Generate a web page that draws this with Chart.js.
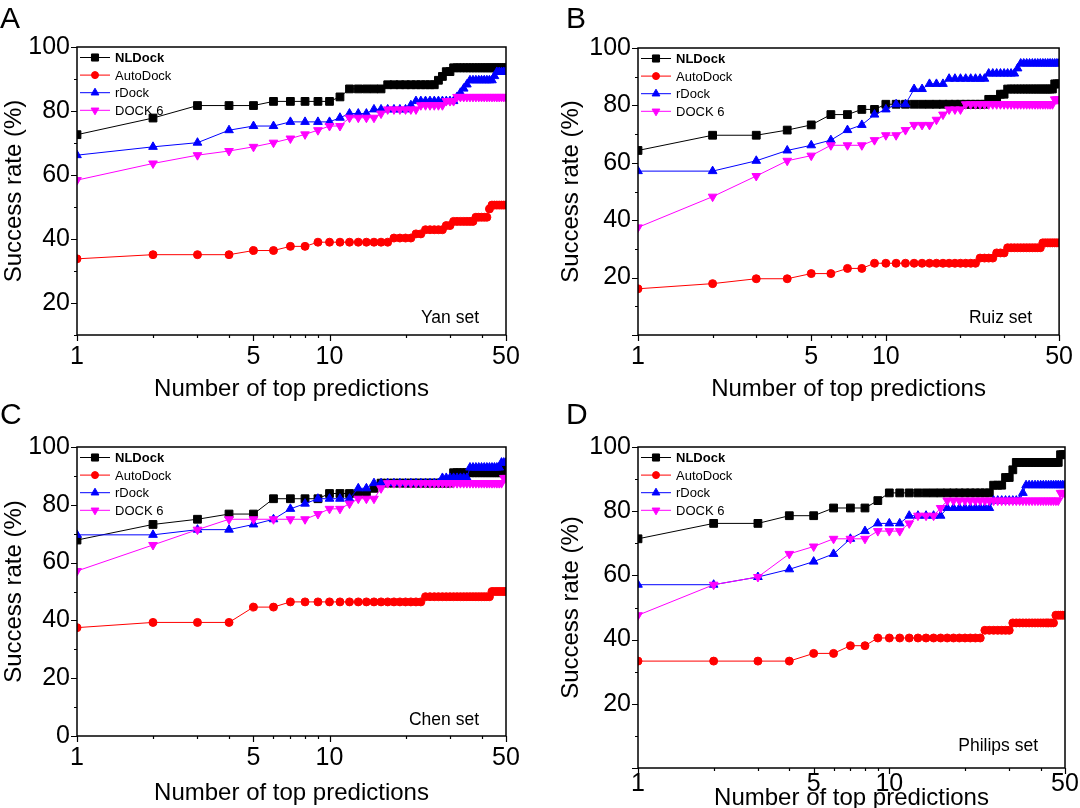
<!DOCTYPE html>
<html>
<head>
<meta charset="utf-8">
<title>Success rate vs number of top predictions</title>
<script src="https://cdn.jsdelivr.net/npm/chart.js@4.4.1/dist/chart.umd.min.js"></script>
<style>
  body { margin: 0; background: #fff; }
  #wrap { position: relative; width: 1080px; height: 808px; overflow: hidden; }
  .panel { position: absolute; width: 540px; height: 404px; }
  .letter { position: absolute; font: 30px/30px 'Liberation Sans', Arial, sans-serif; color: #000; }
</style>
</head>
<body>
<div id="wrap">
  <div class="panel" style="left:0;top:0"><canvas id="chartA"></canvas></div>
  <div class="panel" style="left:540px;top:0"><canvas id="chartB"></canvas></div>
  <div class="panel" style="left:0;top:404px"><canvas id="chartC"></canvas></div>
  <div class="panel" style="left:540px;top:404px"><canvas id="chartD"></canvas></div>
  <div class="letter" style="left:0;top:3px">A</div>
  <div class="letter" style="left:566px;top:3px">B</div>
  <div class="letter" style="left:0;top:399px">C</div>
  <div class="letter" style="left:566px;top:399px">D</div>
</div>
<script>
// number of top predictions considered
const topN = [1, 2, 3, 4, 5, 6, 7, 8, 9, 10, 11, 12, 13, 14, 15, 16, 17, 18, 19, 20,
  21, 22, 23, 24, 25, 26, 27, 28, 29, 30, 31, 32, 33, 34, 35, 36, 37, 38, 39, 40,
  41, 42, 43, 44, 45, 46, 47, 48, 49, 50];

const seriesNames = ['NLDock', 'AutoDock', 'rDock', 'DOCK 6'];
const seriesColors = ['#000000', '#ff0000', '#0000ff', '#ff00ff'];
const markerStyles = ['rect', 'circle', 'triangle', 'triangle'];
const markerRotation = [0, 0, 0, 180];
const markerRadius = [5.5, 4, 5, 5];

const xTicks = [1, 2, 3, 4, 5, 6, 7, 8, 9, 10, 20, 30, 40, 50];
const xLabelled = [1, 5, 10, 50];

// A - Yan set
const yanNLDock = [72.6, 77.8, 81.7, 81.7, 81.7, 83.0, 83.0, 83.0, 83.0, 83.0,
  84.4, 86.9, 86.9, 86.9, 86.9, 86.9, 88.2, 88.2, 88.2, 88.2,
  88.2, 88.2, 88.2, 88.2, 88.2, 88.2, 89.6, 90.8, 92.3, 92.3,
  93.5, 93.5, 93.5, 93.5, 93.5, 93.5, 93.5, 93.5, 93.5, 93.5,
  93.5, 93.5, 93.5, 93.5, 93.5, 93.5, 93.5, 93.5, 93.5, 93.5];
const yanAutoDock = [33.8, 35.1, 35.1, 35.1, 36.4, 36.4, 37.7, 37.7, 39.0, 39.0,
  39.0, 39.0, 39.0, 39.0, 39.0, 39.0, 39.0, 40.3, 40.3, 40.3,
  40.3, 41.6, 41.6, 42.9, 42.9, 42.9, 42.9, 42.9, 44.2, 44.2,
  45.5, 45.5, 45.5, 45.5, 45.5, 45.5, 45.5, 46.8, 46.8, 46.8,
  46.8, 46.8, 49.4, 50.6, 50.6, 50.6, 50.6, 50.6, 50.6, 50.6];
const yanRDock = [66.2, 68.8, 70.1, 74.0, 75.3, 75.3, 76.6, 76.6, 76.6, 76.6,
  77.9, 79.2, 79.2, 79.2, 80.5, 80.5, 80.5, 80.5, 80.5, 80.5,
  81.8, 83.1, 83.1, 83.1, 83.1, 83.1, 83.1, 83.1, 83.1, 83.1,
  83.1, 84.4, 85.7, 87.0, 88.3, 89.6, 89.6, 89.6, 89.6, 89.6,
  89.6, 89.6, 89.6, 89.6, 90.9, 92.2, 92.2, 92.2, 92.2, 92.2];
const yanDock6 = [58.4, 63.6, 66.2, 67.5, 68.8, 70.1, 71.4, 72.7, 74.0, 75.3,
  75.3, 77.9, 77.9, 77.9, 77.9, 79.2, 80.5, 80.5, 80.5, 80.5,
  80.5, 80.5, 81.8, 81.8, 81.8, 81.8, 81.8, 81.8, 83.1, 83.1,
  83.1, 84.4, 84.4, 84.4, 84.4, 84.4, 84.4, 84.4, 84.4, 84.4,
  84.4, 84.4, 84.4, 84.4, 84.4, 84.4, 84.4, 84.4, 84.4, 84.4];

// B - Ruiz set
const ruizNLDock = [64.3, 69.6, 69.6, 71.4, 73.2, 76.8, 76.8, 78.6, 78.6, 80.4,
  80.4, 80.4, 80.4, 80.4, 80.4, 80.4, 80.4, 80.4, 80.4, 80.4,
  80.4, 80.4, 80.4, 80.4, 80.4, 82.1, 82.1, 82.1, 83.9, 83.9,
  85.7, 85.7, 85.7, 85.7, 85.7, 85.7, 85.7, 85.7, 85.7, 85.7,
  85.7, 85.7, 85.7, 85.7, 85.7, 85.7, 85.7, 87.5, 87.5, 87.5];
const ruizAutoDock = [16.1, 17.9, 19.6, 19.6, 21.4, 21.4, 23.2, 23.2, 25.0, 25.0,
  25.0, 25.0, 25.0, 25.0, 25.0, 25.0, 25.0, 25.0, 25.0, 25.0,
  25.0, 25.0, 25.0, 26.8, 26.8, 26.8, 26.8, 28.6, 28.6, 28.6,
  30.4, 30.4, 30.4, 30.4, 30.4, 30.4, 30.4, 30.4, 30.4, 30.4,
  30.4, 30.4, 32.1, 32.1, 32.1, 32.1, 32.1, 32.1, 32.1, 32.1];
const ruizRDock = [57.1, 57.1, 60.7, 64.3, 66.1, 67.9, 71.4, 73.2, 76.8, 78.6,
  80.4, 80.4, 85.7, 85.7, 87.5, 87.5, 87.5, 89.3, 89.3, 89.3,
  89.3, 89.3, 89.3, 89.3, 89.3, 91.1, 91.1, 91.1, 91.1, 91.1,
  91.1, 91.1, 91.1, 92.9, 94.6, 94.6, 94.6, 94.6, 94.6, 94.6,
  94.6, 94.6, 94.6, 94.6, 94.6, 94.6, 94.6, 94.6, 94.6, 94.6];
const ruizDock6 = [37.5, 48.2, 55.4, 60.7, 62.5, 66.1, 66.1, 66.1, 67.9, 69.6,
  69.6, 71.4, 73.2, 73.2, 73.2, 75.0, 76.8, 78.6, 78.6, 78.6,
  80.4, 80.4, 80.4, 80.4, 80.4, 80.4, 80.4, 80.4, 80.4, 80.4,
  80.4, 80.4, 80.4, 80.4, 80.4, 80.4, 80.4, 80.4, 80.4, 80.4,
  80.4, 80.4, 80.4, 80.4, 80.4, 80.4, 80.4, 82.1, 82.1, 82.1];

// C - Chen set
const chenNLDock = [67.8, 73.2, 75.0, 76.8, 76.8, 82.1, 82.1, 82.1, 82.1, 83.9,
  83.9, 83.9, 83.9, 83.9, 85.7, 87.5, 87.5, 87.5, 87.5, 87.5,
  87.5, 87.5, 87.5, 87.5, 87.5, 87.5, 87.5, 87.5, 87.5, 87.5,
  91.1, 91.1, 91.1, 91.1, 91.1, 91.1, 91.1, 91.1, 91.1, 91.1,
  91.1, 91.1, 91.1, 91.1, 91.1, 91.1, 91.1, 91.1, 92.9, 92.9];
const chenAutoDock = [37.5, 39.3, 39.3, 39.3, 44.6, 44.6, 46.4, 46.4, 46.4, 46.4,
  46.4, 46.4, 46.4, 46.4, 46.4, 46.4, 46.4, 46.4, 46.4, 46.4,
  46.4, 46.4, 46.4, 48.2, 48.2, 48.2, 48.2, 48.2, 48.2, 48.2,
  48.2, 48.2, 48.2, 48.2, 48.2, 48.2, 48.2, 48.2, 48.2, 48.2,
  48.2, 48.2, 48.2, 50.0, 50.0, 50.0, 50.0, 50.0, 50.0, 50.0];
const chenRDock = [69.6, 69.6, 71.4, 71.4, 73.2, 75.0, 78.6, 80.4, 82.1, 82.1,
  82.1, 82.1, 85.7, 85.7, 87.5, 87.5, 87.5, 87.5, 87.5, 87.5,
  87.5, 87.5, 87.5, 87.5, 87.5, 87.5, 87.5, 89.3, 89.3, 89.3,
  89.3, 89.3, 89.3, 89.3, 89.3, 92.9, 92.9, 92.9, 92.9, 92.9,
  92.9, 92.9, 92.9, 92.9, 92.9, 92.9, 92.9, 94.6, 94.6, 94.6];
const chenDock6 = [57.1, 66.1, 71.4, 75.0, 75.0, 75.0, 75.0, 75.0, 76.8, 78.6,
  78.6, 80.4, 82.1, 82.1, 82.1, 85.7, 87.5, 87.5, 87.5, 87.5,
  87.5, 87.5, 87.5, 87.5, 87.5, 87.5, 87.5, 87.5, 87.5, 87.5,
  87.5, 87.5, 87.5, 87.5, 87.5, 87.5, 87.5, 87.5, 87.5, 87.5,
  87.5, 87.5, 87.5, 87.5, 87.5, 87.5, 87.5, 87.5, 89.3, 89.3];

// D - Philips set
const philipsNLDock = [71.4, 76.2, 76.2, 78.6, 78.6, 81.0, 81.0, 81.0, 83.3, 85.7,
  85.7, 85.7, 85.7, 85.7, 85.7, 85.7, 85.7, 85.7, 85.7, 85.7,
  85.7, 85.7, 85.7, 85.7, 85.7, 88.1, 88.1, 88.1, 90.5, 90.5,
  92.9, 95.2, 95.2, 95.2, 95.2, 95.2, 95.2, 95.2, 95.2, 95.2,
  95.2, 95.2, 95.2, 95.2, 95.2, 95.2, 95.2, 97.6, 97.6, 97.6];
const philipsAutoDock = [33.3, 33.3, 33.3, 33.3, 35.7, 35.7, 38.1, 38.1, 40.5, 40.5,
  40.5, 40.5, 40.5, 40.5, 40.5, 40.5, 40.5, 40.5, 40.5, 40.5,
  40.5, 40.5, 40.5, 42.9, 42.9, 42.9, 42.9, 42.9, 42.9, 42.9,
  45.2, 45.2, 45.2, 45.2, 45.2, 45.2, 45.2, 45.2, 45.2, 45.2,
  45.2, 45.2, 45.2, 45.2, 45.2, 47.6, 47.6, 47.6, 47.6, 47.6];
const philipsRDock = [57.1, 57.1, 59.5, 61.9, 64.3, 66.7, 71.4, 73.8, 76.2, 76.2,
  76.2, 78.6, 78.6, 78.6, 78.6, 78.6, 81.0, 81.0, 81.0, 81.0,
  81.0, 81.0, 81.0, 81.0, 81.0, 83.3, 83.3, 83.3, 83.3, 83.3,
  83.3, 83.3, 83.3, 85.7, 88.1, 88.1, 88.1, 88.1, 88.1, 88.1,
  88.1, 88.1, 88.1, 88.1, 88.1, 88.1, 88.1, 88.1, 88.1, 88.1];
const philipsDock6 = [47.6, 57.1, 59.5, 66.7, 69.0, 71.4, 71.4, 71.4, 73.8, 73.8,
  73.8, 76.2, 78.6, 78.6, 78.6, 81.0, 83.3, 83.3, 83.3, 83.3,
  83.3, 83.3, 83.3, 83.3, 83.3, 83.3, 83.3, 83.3, 83.3, 83.3,
  83.3, 83.3, 83.3, 83.3, 83.3, 83.3, 83.3, 83.3, 83.3, 83.3,
  83.3, 83.3, 83.3, 83.3, 83.3, 83.3, 83.3, 85.7, 85.7, 85.7];

const FONT = "'Liberation Sans', Arial, sans-serif";

// frame, minor/major tick marks, in-plot legend and set name
const panelDecor = {
  id: 'panelDecor',
  afterDraw(chart, args, opts) {
    const { ctx, chartArea: a, scales: { x, y } } = chart;
    ctx.save();
    ctx.strokeStyle = '#000';
    ctx.lineWidth = 1.5;
    ctx.strokeRect(a.left, a.top, a.right - a.left, a.bottom - a.top);

    ctx.lineWidth = 1.2;
    ctx.beginPath();
    xTicks.forEach(v => {
      const px = Math.round(x.getPixelForValue(v)) + 0.5;
      const len = xLabelled.includes(v) ? 6 : 3;
      ctx.moveTo(px, a.bottom);
      ctx.lineTo(px, a.bottom + len);
    });
    for (let v = y.min; v <= y.max; v += 10) {
      const py = Math.round(y.getPixelForValue(v)) + 0.5;
      const len = v % 20 === 0 ? 6 : 3;
      ctx.moveTo(a.left, py);
      ctx.lineTo(a.left - len, py);
    }
    ctx.stroke();

    // legend in the upper left corner
    seriesNames.forEach((name, i) => {
      const ly = a.top + 10.5 + i * 17.6;
      const lx = a.left + 3;
      ctx.strokeStyle = seriesColors[i];
      ctx.lineWidth = 1;
      ctx.beginPath();
      ctx.moveTo(lx, ly);
      ctx.lineTo(lx + 30, ly);
      ctx.stroke();
      ctx.fillStyle = seriesColors[i];
      Chart.helpers.drawPoint(ctx, {
        pointStyle: markerStyles[i],
        rotation: markerRotation[i],
        radius: markerRadius[i] - 0.5,
        borderWidth: 1
      }, lx + 15, ly);
      ctx.fillStyle = '#000';
      ctx.font = (i === 0 ? 'bold ' : '') + '13px ' + FONT;
      ctx.textAlign = 'left';
      ctx.textBaseline = 'middle';
      ctx.fillText(name, lx + 35, ly + 1);
    });

    ctx.fillStyle = '#000';
    ctx.font = '17.5px ' + FONT;
    ctx.textAlign = 'right';
    ctx.textBaseline = 'middle';
    ctx.fillText(opts.setName, a.right - 27, a.bottom - opts.setLift);
    ctx.restore();
  }
};

function makePanel(canvasId, values, L) {
  const datasets = values.map((vals, i) => ({
    label: seriesNames[i],
    data: topN.map((n, k) => ({ x: n, y: vals[k] })),
    borderColor: seriesColors[i],
    borderWidth: 1,
    backgroundColor: seriesColors[i],
    pointStyle: markerStyles[i],
    pointRotation: markerRotation[i],
    pointRadius: markerRadius[i],
    pointBorderWidth: 1,
    pointBackgroundColor: seriesColors[i],
    pointBorderColor: seriesColors[i],
    tension: 0,
    fill: false,
    order: 4 - i
  }));

  return new Chart(document.getElementById(canvasId), {
    type: 'line',
    data: { datasets: datasets },
    plugins: [panelDecor],
    options: {
      responsive: true,
      maintainAspectRatio: false,
      animation: false,
      events: [],
      layout: { padding: { left: L.padLeft, top: L.padTop, right: L.padRight, bottom: 0 } },
      plugins: {
        legend: { display: false },
        tooltip: { enabled: false },
        panelDecor: { setName: L.setName, setLift: L.setLift }
      },
      scales: {
        x: {
          type: 'logarithmic',
          min: 1,
          max: 50,
          afterBuildTicks: s => { s.ticks = xTicks.map(v => ({ value: v })); },
          afterFit: s => { s.height = L.xHeight; },
          grid: { display: false, drawTicks: false },
          border: { display: false },
          ticks: {
            autoSkip: false,
            maxRotation: 0,
            padding: L.xPad,
            color: '#000',
            font: { family: FONT, size: 25 },
            callback: v => xLabelled.includes(v) ? String(v) : ''
          },
          title: {
            display: true,
            text: 'Number of top predictions',
            color: '#000',
            padding: 0,
            font: { family: FONT, size: 24, lineHeight: L.titleLH }
          }
        },
        y: {
          min: L.yMin,
          max: 100,
          afterFit: s => { s.width = L.yWidth; },
          grid: { display: false, drawTicks: false },
          border: { display: false },
          ticks: {
            stepSize: 10,
            autoSkip: false,
            padding: 7,
            color: '#000',
            font: { family: FONT, size: 25 },
            callback: v => (v % 20 === 0 && (v !== 0 || L.zeroLabel)) ? String(v) : ''
          },
          title: {
            display: true,
            text: 'Success rate (%)',
            color: '#000',
            padding: 0,
            font: { family: FONT, size: 24 }
          }
        }
      }
    }
  });
}

makePanel('chartA', [yanNLDock, yanAutoDock, yanRDock, yanDock6],
  { padLeft: 0, yWidth: 77, padTop: 47, padRight: 34, xHeight: 69, xPad: 7, titleLH: 1.2,
    yMin: 10, zeroLabel: false, setName: 'Yan set', setLift: 17 });
makePanel('chartB', [ruizNLDock, ruizAutoDock, ruizRDock, ruizDock6],
  { padLeft: 17, yWidth: 81, padTop: 48, padRight: 15, xHeight: 69, xPad: 7, titleLH: 1.2,
    yMin: 0, zeroLabel: false, setName: 'Ruiz set', setLift: 17 });
makePanel('chartC', [chenNLDock, chenAutoDock, chenRDock, chenDock6],
  { padLeft: 0, yWidth: 77, padTop: 43, padRight: 34, xHeight: 72, xPad: 7, titleLH: 1.2,
    yMin: 0, zeroLabel: true, setName: 'Chen set', setLift: 16 });
makePanel('chartD', [philipsNLDock, philipsAutoDock, philipsRDock, philipsDock6],
  { padLeft: 17, yWidth: 81, padTop: 43, padRight: 15, xHeight: 40, xPad: 1, titleLH: 0.8,
    yMin: 0, zeroLabel: false, setName: 'Philips set', setLift: 22 });
</script>
</body>
</html>
